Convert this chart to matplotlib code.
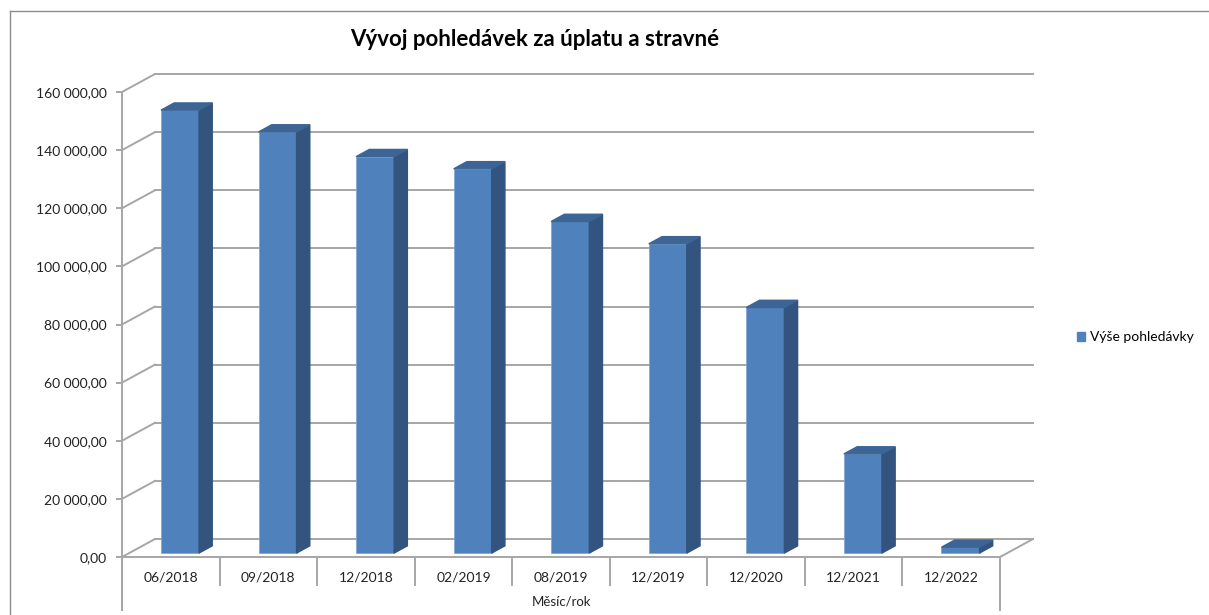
import matplotlib
matplotlib.use("Agg")
import matplotlib.pyplot as plt
from matplotlib.patches import Polygon, Patch
from matplotlib.lines import Line2D
from matplotlib.ticker import FuncFormatter

plt.rcParams["font.family"] = ["Lato", "DejaVu Sans"]

# data
months = ["06/2018", "09/2018", "12/2018", "02/2019", "08/2019",
          "12/2019", "12/2020", "12/2021", "12/2022"]
values = [152400, 144900, 136400, 132200, 114100, 106400, 84500, 34100, 2000]
y_ticks = [0, 20000, 40000, 60000, 80000, 100000, 120000, 140000, 160000]

TITLE = "Vývoj pohledávek za úplatu a stravné"
SERIES = "Výše pohledávky"
XTITLE = "Měsíc/rok"

GRID = "#a6a6a6"
FRONT = "#4f81bd"
SIDE = "#32547f"
TOP = "#3c6596"

W, H = 1209, 615
PX_X = 97.56                 # pixels per category
PX_Y = 465 / 160000          # pixels per value unit
DX, DY = 33 / PX_X, 18 / PX_Y  # depth of the floor (oblique projection)
BAR_W = 0.39


def czk(v, _=None):
    return f"{v:,.2f}".replace(",", " ").replace(".", ",")


fig = plt.figure(figsize=(W / 100, H / 100), dpi=100)
ax = fig.add_axes([122 / W, 5 / H, 912 / W, 537 / H])
ax.set_xlim(0, 912 / PX_X)
ax.set_ylim(-53 / PX_Y, 484 / PX_Y)

# back wall gridlines + diagonals to the front axis
n = len(months)
for v in y_ticks:
    ax.plot([DX, n + DX], [v + DY, v + DY], color=GRID, lw=1.4, zorder=1)
    ax.plot([0, DX], [v, v + DY], color=GRID, lw=1.4, zorder=1)
# floor
ax.plot([0, n], [0, 0], color=GRID, lw=1.4, zorder=1)
ax.plot([n, n + DX], [0, DY], color=GRID, lw=1.4, zorder=1)
# category dividers
ylo = ax.get_ylim()[0]
for k in range(n + 1):
    bottom = ylo if k in (0, n) else -28 / PX_Y
    ax.plot([k, k], [0, bottom], color=GRID, lw=1.4, zorder=1, clip_on=False)

# 3d-looking bars: front at 0.28 of depth, 0.4 of depth deep
fx, fy = 0.28 * DX, 0.22 * DY
bx, by = 0.4 * DX, 0.4 * DY
for i, v in enumerate(values):
    x0 = i + 0.5 - BAR_W / 2 + fx
    x1 = x0 + BAR_W
    ax.bar(x0, v, width=BAR_W, bottom=fy, align="edge", color=FRONT,
           edgecolor="#7fa3d3", linewidth=0.5, zorder=3)
    ax.add_patch(Polygon([(x1, fy), (x1 + bx, fy + by), (x1 + bx, fy + v + by),
                          (x1, fy + v)], closed=True, color=SIDE, zorder=3))
    ax.add_patch(Polygon([(x0, fy + v), (x1, fy + v), (x1 + bx, fy + v + by),
                          (x0 + bx, fy + v + by)], closed=True, color=TOP, zorder=3))
    ax.text(i + 0.5, -20 / PX_Y, months[i], ha="center", va="center",
            fontsize=10, color="#222222")

ax.text(n / 2, -44 / PX_Y, XTITLE, ha="center", va="center", fontsize=9.5,
        color="#222222")

# y axis on the front-left edge
for s in ["top", "right", "bottom"]:
    ax.spines[s].set_visible(False)
ax.spines["left"].set_color(GRID)
ax.spines["left"].set_linewidth(1.4)
ax.spines["left"].set_bounds(ylo, y_ticks[-1])
ax.set_yticks(y_ticks)
ax.yaxis.set_major_formatter(FuncFormatter(czk))
ax.tick_params(axis="y", length=4, width=1.4, color=GRID, pad=7,
               labelsize=10, labelcolor="#222222")
ax.set_xticks([])
ax.patch.set_visible(False)

fig.suptitle(TITLE, x=535 / W, y=1 - 40 / H, va="center", fontsize=16,
             fontweight="bold")

fig.legend(handles=[Patch(color=FRONT, label=SERIES)], loc="center left",
           bbox_to_anchor=(1064 / W, 1 - 337 / H), frameon=False, fontsize=10,
           handlelength=0.6, handleheight=0.6, handletextpad=0.4)

# chart area border
fig.add_artist(Line2D([10 / W, 1], [1 - 11 / H, 1 - 11 / H], color="#8c8c8c", lw=1))
fig.add_artist(Line2D([10 / W, 10 / W], [0, 1 - 11 / H], color="#8c8c8c", lw=1))

fig.savefig("out.png", dpi=100)
